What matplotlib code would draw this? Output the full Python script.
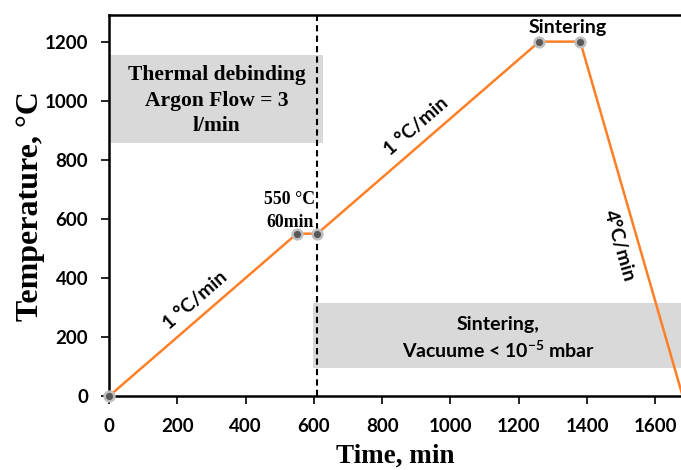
import matplotlib
matplotlib.use("Agg")
import matplotlib.pyplot as plt

# firing schedule (time in min, temperature in C)
time_min = [0, 550, 610, 1260, 1380, 1680]
temp_c = [0, 550, 550, 1200, 1200, 0]
marker_idx = [0, 1, 2, 3, 4]
x_ticks = [0, 200, 400, 600, 800, 1000, 1200, 1400, 1600]
y_ticks = [0, 200, 400, 600, 800, 1000, 1200]
switch_time = 610

plt.rcParams['mathtext.fontset'] = 'custom'
plt.rcParams['mathtext.rm'] = 'Lato:bold'
plt.rcParams['mathtext.it'] = 'Lato:bold'
plt.rcParams['mathtext.bf'] = 'Lato:bold'
plt.rcParams['mathtext.default'] = 'rm'

sans = 'Lato'
serif = 'Liberation Serif'
orange = '#FF7F27'

fig = plt.figure(figsize=(6.81, 4.70), dpi=100)
ax = fig.add_axes([0.160, 0.157, 0.840, 0.811])

ax.set_xlim(0, 1675)
ax.set_ylim(0, 1290)

# shaded process regions
ax.fill_between([0, 626], 858, 1156, color='#D9D9D9', lw=0, zorder=1)
ax.fill_between([596, 1675], 95, 315, color='#D9D9D9', lw=0, zorder=1)

ax.axvline(switch_time, color='black', ls='--', lw=1.5, dashes=(3, 2), zorder=2)

ax.plot(time_min, temp_c, color=orange, lw=1.8, zorder=3, clip_on=False)
ax.plot([time_min[i] for i in marker_idx], [temp_c[i] for i in marker_idx],
        'o', ms=7, mfc='#595959', mec='#BFBFBF', mew=1.8, zorder=4, clip_on=False)

ax.text(316, 1000, 'Thermal debinding\nArgon Flow = 3\nl/min', ha='center', va='center',
        family=serif, fontweight='bold', fontsize=15.5, linespacing=1.38, zorder=5)
ax.text(1140, 195, 'Sintering,\nVacuume < 10$^{-5}$ mbar', ha='center', va='center',
        family=sans, fontweight='bold', fontsize=14, linespacing=1.35, zorder=5)
ax.text(529, 627, '550 °C\n60min', ha='center', va='center',
        family=serif, fontweight='bold', fontsize=12.8, linespacing=1.5, zorder=5)
ax.text(1342, 1247, 'Sintering', ha='center', va='center',
        family=sans, fontweight='bold', fontsize=14, zorder=5)
ax.text(254, 325, '1 °C/min', ha='center', va='center', rotation=41,
        family=sans, fontweight='bold', fontsize=14, zorder=5)
ax.text(901, 912, '1 °C/min', ha='center', va='center', rotation=41,
        family=sans, fontweight='bold', fontsize=14, zorder=5)
ax.text(1494, 508, '4°C/min', ha='center', va='center', rotation=-74,
        family=sans, fontweight='bold', fontsize=14, zorder=5)

ax.set_xticks(x_ticks)
ax.set_yticks(y_ticks)
for lab in ax.get_xticklabels() + ax.get_yticklabels():
    lab.set_family(sans)
    lab.set_fontweight('bold')
    lab.set_fontsize(13.5)
ax.tick_params(axis='both', direction='out', length=6, width=1.2, colors='black')
ax.tick_params(axis='x', pad=10)
ax.tick_params(axis='y', pad=9)

ax.set_xlabel('Time, min', family=serif, fontweight='bold', fontsize=19.5, labelpad=6)
ax.set_ylabel('Temperature, °C', family=serif, fontweight='bold', fontsize=23, labelpad=0)

for side in ['left', 'bottom', 'top']:
    ax.spines[side].set_linewidth(1.8)
ax.spines['right'].set_visible(False)

fig.savefig('out.png', dpi=100)
